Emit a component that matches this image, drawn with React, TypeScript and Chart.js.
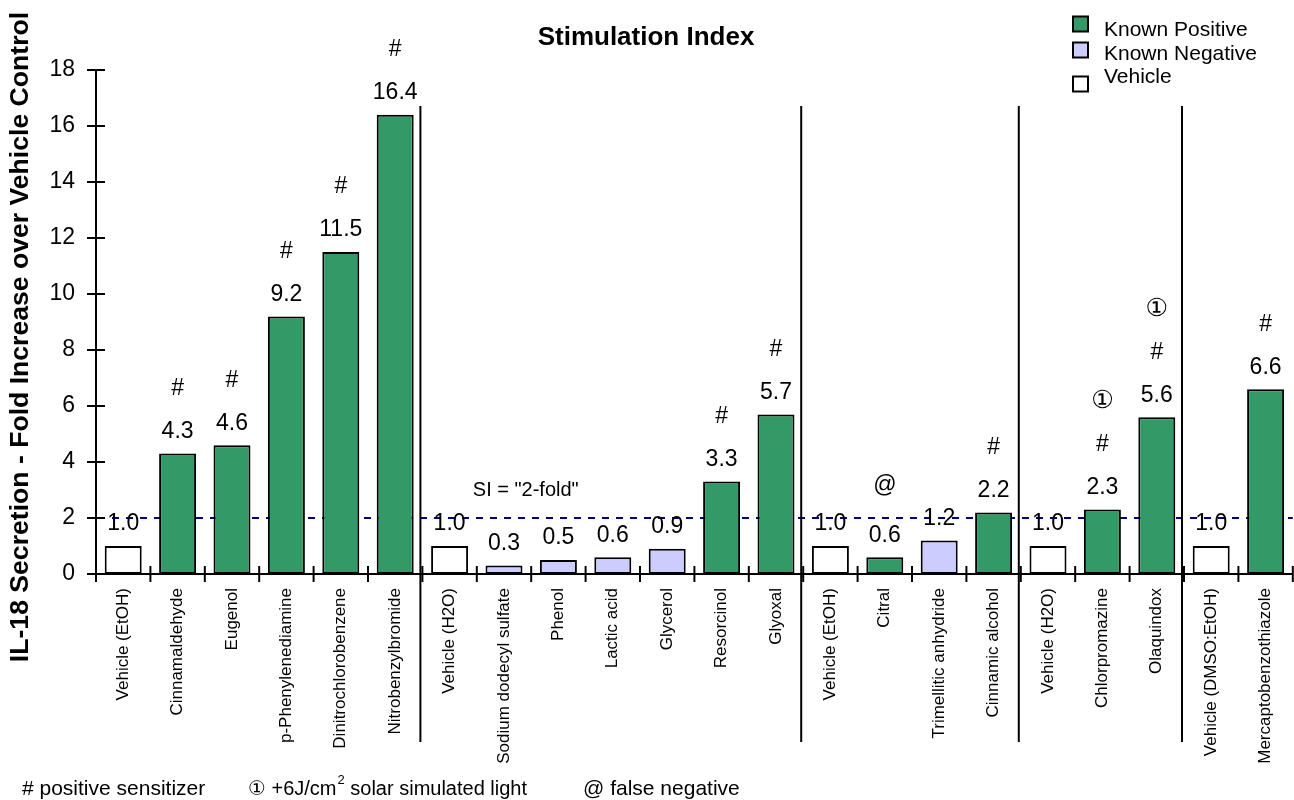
import React, { useEffect, useRef } from "react";
import { Chart, registerables } from "chart.js";

Chart.register(...registerables);

const FONT = "'Liberation Sans', Arial, 'DejaVu Sans', 'Noto Sans CJK JP', sans-serif";

const categories = [
  "Vehicle (EtOH)",
  "Cinnamaldehyde",
  "Eugenol",
  "p-Phenylenediamine",
  "Dinitrochlorobenzene",
  "Nitrobenzylbromide",
  "Vehicle (H2O)",
  "Sodium dodecyl sulfate",
  "Phenol",
  "Lactic acid",
  "Glycerol",
  "Resorcinol",
  "Glyoxal",
  "Vehicle (EtOH)",
  "Citral",
  "Trimellitic anhydride",
  "Cinnamic alcohol",
  "Vehicle (H2O)",
  "Chlorpromazine",
  "Olaquindox",
  "Vehicle (DMSO:EtOH)",
  "Mercaptobenzothiazole",
];

const values = [1.0, 4.3, 4.6, 9.2, 11.5, 16.4, 1.0, 0.3, 0.5, 0.6, 0.9, 3.3, 5.7, 1.0, 0.6, 1.2, 2.2, 1.0, 2.3, 5.6, 1.0, 6.6];

// P = known positive, N = known negative, V = vehicle
const kinds = ["V", "P", "P", "P", "P", "P", "V", "N", "N", "N", "N", "P", "P", "V", "P", "N", "P", "V", "P", "P", "V", "P"];

const marks = ["", "#", "#", "#", "#", "#", "", "", "", "", "", "#", "#", "", "@", "", "#", "", "#", "#", "", "#"];

const lightMarks = ["", "", "", "", "", "", "", "", "", "", "", "", "", "", "", "", "", "", "\u2460", "\u2460", "", ""];

const separatorsAfter = [5, 12, 16, 19];

const yTickLabels = ["0", "2", "4", "6", "8", "10", "12", "14", "16", "18"];

const siThreshold = 2;
const siLabel = 'SI = "2-fold"';
const siLabelPos = { index: 7.4, value: 3.0 };

const legendLabels = ["Known Positive", "Known Negative", "Vehicle"];
const legendKinds = ["P", "N", "V"];

const titleText = "Stimulation Index";
const yTitleText = "IL-18 Secretion - Fold Increase over Vehicle Control";

const COLORS: Record<string, string> = { P: "#339966", N: "#CCCCFF", V: "#FFFFFF" };

function text(ctx: CanvasRenderingContext2D, s: string, x: number, y: number, font: string, align: CanvasTextAlign = "center") {
  ctx.font = font;
  ctx.textAlign = align;
  ctx.textBaseline = "middle";
  ctx.fillStyle = "#000";
  ctx.fillText(s, x, y);
}

export default function App() {
  const ref = useRef<HTMLCanvasElement>(null);

  useEffect(() => {
    const canvas = ref.current!;

    const overlay = {
      id: "overlay",
      beforeDatasetsDraw(chart: any) {
        const ctx: CanvasRenderingContext2D = chart.ctx;
        const { left, right } = chart.chartArea;
        const y = chart.scales.y.getPixelForValue(siThreshold);
        ctx.save();
        ctx.strokeStyle = "#000080";
        ctx.lineWidth = 2;
        ctx.setLineDash([7, 7]);
        ctx.beginPath();
        ctx.moveTo(left + 2, y);
        ctx.lineTo(right, y);
        ctx.stroke();
        ctx.restore();
      },
      afterDraw(chart: any) {
        const ctx: CanvasRenderingContext2D = chart.ctx;
        const xs = chart.scales.x;
        const ys = chart.scales.y;
        const { left, right, top, bottom } = chart.chartArea;
        const cw = (right - left) / categories.length;
        ctx.save();
        ctx.strokeStyle = "#000";
        ctx.lineWidth = 2;
        ctx.setLineDash([]);
        // y ticks crossing axis
        yTickLabels.forEach((t) => {
          const y = ys.getPixelForValue(Number(t));
          ctx.beginPath();
          ctx.moveTo(left - 9, y);
          ctx.lineTo(left + 9, y);
          ctx.stroke();
        });
        // x ticks crossing axis
        for (let i = 0; i <= categories.length; i++) {
          const x = xs.getPixelForValue(i) - cw / 2;
          ctx.beginPath();
          ctx.moveTo(x, bottom - 8);
          ctx.lineTo(x, bottom + 8);
          ctx.stroke();
        }
        // group separators
        separatorsAfter.forEach((i) => {
          const x = xs.getPixelForValue(i) + cw / 2 - 2;
          ctx.beginPath();
          ctx.moveTo(x, top + 36);
          ctx.lineTo(x, bottom + 168);
          ctx.stroke();
        });
        ctx.restore();

        // value labels and marks
        values.forEach((v, i) => {
          const x = xs.getPixelForValue(i);
          const yt = ys.getPixelForValue(v);
          text(ctx, v.toFixed(1), x, yt - 22, `23px ${FONT}`);
          if (marks[i] === "#") text(ctx, "#", x, yt - 65, `23px ${FONT}`);
          if (marks[i] === "@") text(ctx, "@", x, yt - 72, `23px ${FONT}`);
          if (lightMarks[i]) text(ctx, lightMarks[i], x, yt - 108, `25px ${FONT}`);
        });

        // SI label
        text(ctx, siLabel, xs.getPixelForValue(siLabelPos.index), ys.getPixelForValue(siLabelPos.value), `20px ${FONT}`);

        // title
        text(ctx, titleText, 646, 38, `bold 26px ${FONT}`);

        // y title
        ctx.save();
        ctx.translate(21, 337);
        ctx.rotate(-Math.PI / 2);
        text(ctx, yTitleText, 0, 0, `bold 26.6px ${FONT}`);
        ctx.restore();

        // legend
        const legY = [24, 50, 84];
        const textY = [30, 54, 77];
        legendLabels.forEach((lab, i) => {
          ctx.save();
          ctx.fillStyle = COLORS[legendKinds[i]];
          ctx.strokeStyle = "#000";
          ctx.lineWidth = 2;
          ctx.fillRect(1073, legY[i] - 7.5, 15, 15);
          ctx.strokeRect(1073, legY[i] - 7.5, 15, 15);
          ctx.restore();
          text(ctx, lab, 1104, textY[i], `21px ${FONT}`, "left");
        });

        // footnote
        const fy = 789;
        const ff = `21px ${FONT}`;
        const fm = `20px ${FONT}`;
        text(ctx, "# positive sensitizer", 22, fy, ff, "left");
        let fx = 248;
        text(ctx, "\u2460 +6J/cm", fx, fy, fm, "left");
        ctx.font = fm;
        fx += ctx.measureText("\u2460 +6J/cm").width;
        text(ctx, "2", fx + 1, fy - 9, `13px ${FONT}`, "left");
        ctx.font = `13px ${FONT}`;
        fx += ctx.measureText("2").width + 1;
        text(ctx, " solar simulated light", fx, fy, fm, "left");
        text(ctx, "@ false negative", 583, fy, ff, "left");
      },
    };

    const chart = new Chart(canvas, {
      type: "bar",
      data: {
        labels: categories,
        datasets: [
          {
            data: values,
            backgroundColor: kinds.map((k) => COLORS[k]),
            borderColor: "#000",
            borderWidth: 2,
            borderSkipped: false,
            categoryPercentage: 1,
            barPercentage: 0.68,
          },
        ],
      },
      options: {
        responsive: false,
        animation: false,
        devicePixelRatio: 1,
        layout: { padding: { top: 70, left: 0, right: 0, bottom: 0 } },
        plugins: {
          legend: { display: false },
          tooltip: { enabled: false },
          title: { display: false },
        },
        scales: {
          x: {
            grid: { display: false, drawTicks: false },
            border: { display: true, color: "#000", width: 2 },
            ticks: {
              autoSkip: false,
              minRotation: 90,
              maxRotation: 90,
              padding: 14,
              color: "#000",
              font: { family: FONT, size: 17 },
            },
            afterFit: (s: any) => {
              s.height = 226;
            },
          },
          y: {
            min: 0,
            max: 18,
            grid: { display: false, drawTicks: false },
            border: { display: true, color: "#000", width: 2 },
            ticks: {
              stepSize: 2,
              padding: 21,
              color: "#000",
              font: { family: FONT, size: 23 },
              callback: (_v: any, i: number) => yTickLabels[i],
            },
            afterFit: (s: any) => {
              s.width = 96;
            },
          },
        },
      },
      plugins: [overlay],
    } as any);

    return () => chart.destroy();
  }, []);

  return (
    <div style={{ position: "fixed", left: 0, top: 0, width: 1294, height: 800, overflow: "hidden", background: "#fff" }}>
      <canvas ref={ref} width={1300} height={800} style={{ width: 1300, height: 800, display: "block" }} />
    </div>
  );
}
